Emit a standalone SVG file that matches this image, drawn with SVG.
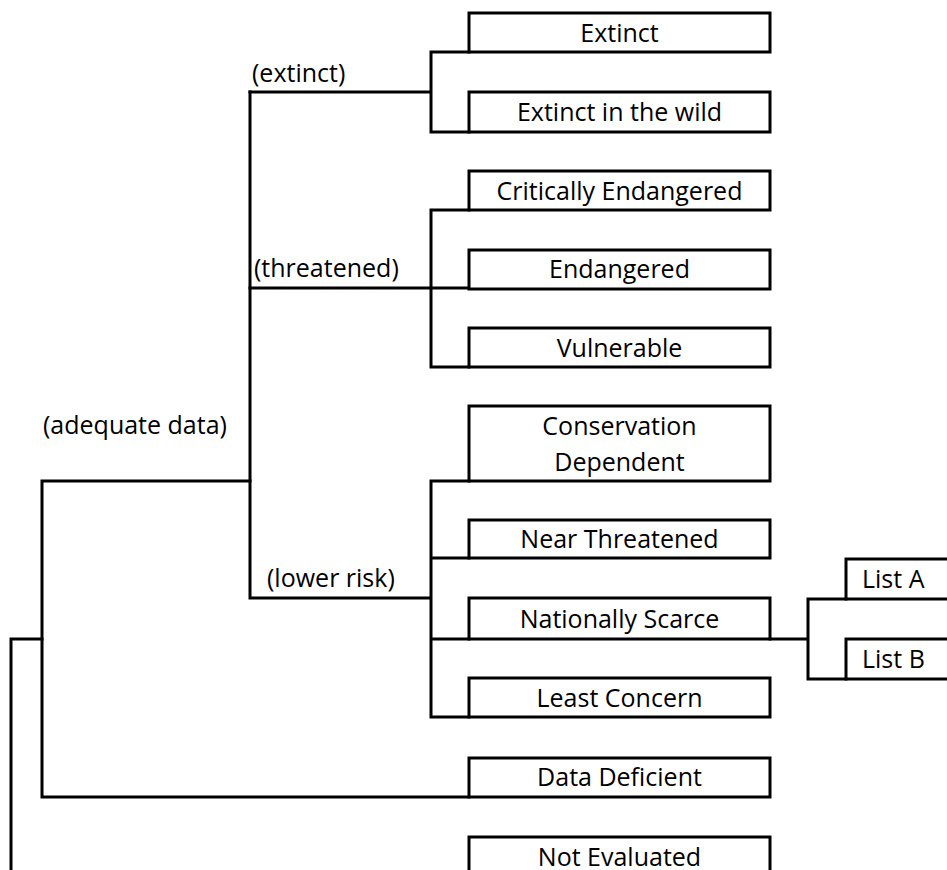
<svg xmlns="http://www.w3.org/2000/svg" width="947" height="870" viewBox="0 0 947 870">
<style>
.box{fill:#fff;stroke:#000;stroke-width:3}
.c{fill:none;stroke:#000;stroke-width:3;stroke-linecap:square}
text{font-family:"Open Sans",Lato,sans-serif;font-size:25px;fill:#000}
.m{text-anchor:middle}
</style>
<rect width="947" height="870" fill="#fff"/>
<g id="connectors">
<path class="c" d="M469,52 H431 V132 H469 M250,92 H431"/>
<path class="c" d="M469,210 H431 V367 H469 M250,288 H469"/>
<path class="c" d="M250,92 V598 H431 M469,481 H431 V717 H469 M431,558 H469 M431,639 H469"/>
<path class="c" d="M250,481 H42 V797 H469"/>
<path class="c" d="M11,639 H42 M11,639 V880"/>
<path class="c" d="M770,639 H808 M846,599 H808 V679 H846"/>
</g>
<g id="label-extinct"><text x="252" y="82">(extinct)</text></g>
<g id="label-threatened"><text x="254" y="277">(threatened)</text></g>
<g id="label-adequate"><text x="43" y="434">(adequate data)</text></g>
<g id="label-lowerrisk"><text x="267" y="587">(lower risk)</text></g>
<g id="n-extinct"><rect class="box" x="469" y="13" width="301" height="39"/><text class="m" x="619.5" y="42">Extinct</text></g>
<g id="n-ew"><rect class="box" x="469" y="92" width="301" height="40"/><text class="m" x="619.5" y="121">Extinct in the wild</text></g>
<g id="n-cr"><rect class="box" x="469" y="171" width="301" height="39"/><text class="m" x="619.5" y="200">Critically Endangered</text></g>
<g id="n-en"><rect class="box" x="469" y="250" width="301" height="39"/><text class="m" x="619.5" y="278">Endangered</text></g>
<g id="n-vu"><rect class="box" x="469" y="328" width="301" height="39"/><text class="m" x="619.5" y="357">Vulnerable</text></g>
<g id="n-cd"><rect class="box" x="469" y="406" width="301" height="75"/><text class="m" x="619.5" y="435">Conservation</text><text class="m" x="619.5" y="471">Dependent</text></g>
<g id="n-nt"><rect class="box" x="469" y="520" width="301" height="38"/><text class="m" x="619.5" y="548">Near Threatened</text></g>
<g id="n-ns"><rect class="box" x="469" y="598" width="301" height="41"/><text class="m" x="619.5" y="628">Nationally Scarce</text></g>
<g id="n-lc"><rect class="box" x="469" y="678" width="301" height="39"/><text class="m" x="619.5" y="707">Least Concern</text></g>
<g id="n-dd"><rect class="box" x="469" y="758" width="301" height="39"/><text class="m" x="619.5" y="786">Data Deficient</text></g>
<g id="n-ne"><rect class="box" x="469" y="837" width="301" height="45"/><text class="m" x="619.5" y="866">Not Evaluated</text></g>
<g id="n-la"><rect class="box" x="846" y="559" width="120" height="40"/><text x="862" y="588">List A</text></g>
<g id="n-lb"><rect class="box" x="846" y="639" width="120" height="40"/><text x="862" y="668">List B</text></g>
</svg>
